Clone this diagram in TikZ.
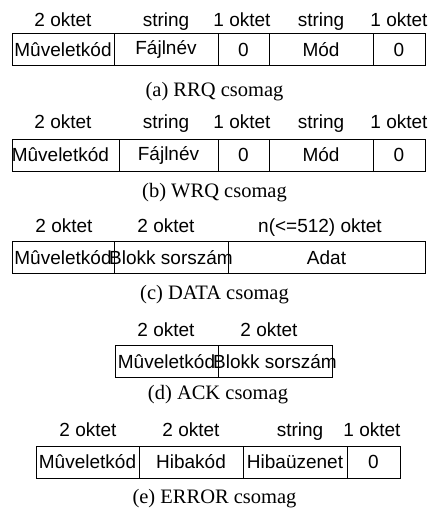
\documentclass[tikz,border=0pt]{standalone}
\usepackage{fontspec}
\setmainfont{Liberation Serif}
\setsansfont{Liberation Sans}

\tikzset{
  szoveg/.style={inner sep=0pt, font=\sffamily\fontsize{19}{21}\selectfont},
  mezo/.style={draw, line width=0.8pt, minimum height=32pt, inner sep=0pt,
    label={[szoveg]center:#1}},
  meret/.style={szoveg, anchor=base},
  felirat/.style={anchor=base, inner sep=0pt, font=\fontsize{20.5}{22}\selectfont}
}

\begin{document}
\begin{tikzpicture}[x=1pt, y=-1pt]
    \useasboundingbox (0,0) rectangle (429,509);

    % (a) RRQ
    \foreach \x/\w/\t/\lx/\m [count=\i] in {63/102/Mûveletkód/63/2 oktet,
        166/104/Fájlnév/166/string, 243.5/51/0/242/1 oktet,
        321/104/Mód/321/string, 399/52/0/399/1 oktet} {
        \node[mezo=\t, minimum width=\w] (a\i) at (\x, 49.5) {};
        \node[meret] (am\i) at (\lx, 26.5) {\m};
    }
    \node[felirat] (acap) at (214.5, 96) {(a) RRQ csomag};

    % (b) WRQ
    \foreach \x/\w/\t/\lx/\m [count=\i] in {65.5/107//63/2 oktet,
        168.5/99/Fájlnév/166/string, 243.5/51/0/242/1 oktet,
        321/104/Mód/321/string, 399/52/0/399/1 oktet} {
        \node[mezo=\t, minimum width=\w] (b\i) at (\x, 155) {};
        \node[meret] (bm\i) at (\lx, 128.5) {\m};
    }
    \node[szoveg, anchor=west] (b1t) at (b1.west) {Mûveletkód};
    \node[felirat] (bcap) at (214.5, 197) {(b) WRQ csomag};

    % (c) DATA
    \foreach \x/\w/\t/\lx/\m [count=\i] in {63/102/Mûveletkód/64/2 oktet,
        171/114/Blokk sorszám/166/2 oktet, 326.5/197/Adat/320/n(<=512) oktet} {
        \node[mezo=\t, minimum width=\w] (c\i) at (\x, 257.5) {};
        \node[meret] (cm\i) at (\lx, 232.5) {\m};
    }
    \node[felirat] (ccap) at (214.5, 299) {(c) DATA csomag};

    % (d) ACK
    \foreach \x/\w/\t/\lx/\m [count=\i] in {166.5/103/Mûveletkód/166/2 oktet,
        275/114/Blokk sorszám/269/2 oktet} {
        \node[mezo=\t, minimum width=\w] (d\i) at (\x, 361.5) {};
        \node[meret] (dm\i) at (\lx, 336.5) {\m};
    }
    \node[felirat] (dcap) at (218, 399) {(d) ACK csomag};

    % (e) ERROR
    \foreach \x/\w/\t/\lx/\m [count=\i] in {87.5/103/Mûveletkód/88/2 oktet,
        191/104/Hibakód/191/2 oktet, 295/104/Hibaüzenet/300/string,
        373.5/53/0/372/1 oktet} {
        \node[mezo=\t, minimum width=\w] (e\i) at (\x, 462) {};
        \node[meret] (em\i) at (\lx, 436.5) {\m};
    }
    \node[felirat] (ecap) at (214.5, 503) {(e) ERROR csomag};
\end{tikzpicture}
\end{document}
